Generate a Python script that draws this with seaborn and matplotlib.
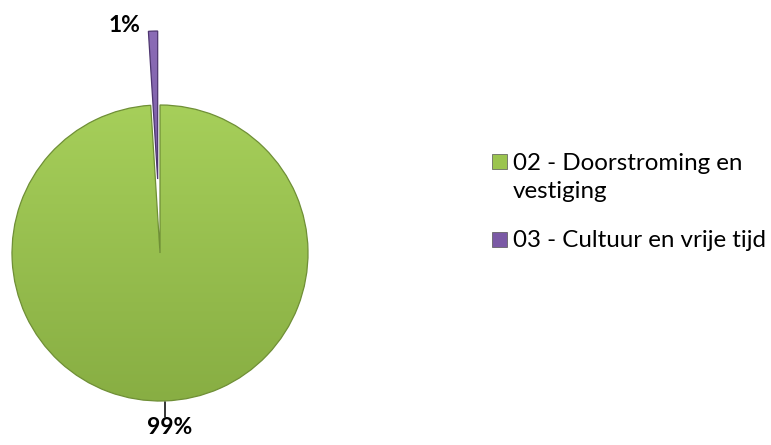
import numpy as np
import matplotlib
matplotlib.use("Agg")
import matplotlib.pyplot as plt
import seaborn as sns
from matplotlib.patches import Rectangle
from matplotlib.colors import LinearSegmentedColormap

# ---- data ----
categories = ["02 - Doorstroming en vestiging", "03 - Cultuur en vrije tijd"]
legend_lines = [["02 - Doorstroming en", "vestiging"], ["03 - Cultuur en vrije tijd"]]
values = [99, 1]
pct_labels = ["99%", "1%"]
explode = [0.0, 0.5]

# ---- style ----
colors = ["#9BC44F", "#7B5AA6"]
grad_top = ["#A6CF5A", "#8B6CB6"]
grad_bot = ["#88AE43", "#6A4D95"]
edge_cols = ["#6F8F36", "#4E3670"]

sns.set_theme(style="white")
plt.rcParams['font.family'] = ['Lato', 'DejaVu Sans']

W, H = 771, 445
fig = plt.figure(figsize=(W / 100, H / 100), dpi=100)
ax = fig.add_axes([0, 0, 1, 1])

R = 148.0          # pie radius in pixels
cx, cy = 160.0, 253.0  # pie centre in pixels (from top-left)

wedges, _ = ax.pie(values, colors=colors, explode=explode, startangle=90,
                   counterclock=False, radius=1.0,
                   wedgeprops=dict(linewidth=0.9))

grad = np.linspace(0, 1, 256).reshape(-1, 1)
for w, top, bot, ec in zip(wedges, grad_top, grad_bot, edge_cols):
    cmap = LinearSegmentedColormap.from_list("g", [bot, top])
    wx, wy = w.center
    r = w.r
    im = ax.imshow(grad, origin="lower", cmap=cmap, aspect="auto",
                   extent=(wx - r, wx + r, wy - r, wy + r), zorder=1)
    im.set_clip_path(w)
    w.set_facecolor("none")
    w.set_edgecolor(ec)
    w.set_zorder(2)

ax.set_xlim(-cx / R, (W - cx) / R)
ax.set_ylim(-(H - cy) / R, cy / R)
ax.set_aspect("auto")
ax.axis("off")

def px(x, y):
    return (x - cx) / R, (cy - y) / R

# data labels
tx, ty = px(169.5, 427)
ax.text(tx, ty, pct_labels[0], ha="center", va="center", fontsize=16.5,
        fontweight="bold", color="black")
l0 = px(165, 402)
l1 = px(165, 417)
ax.plot([l0[0], l1[0]], [l0[1], l1[1]], color="black", lw=1.1)
tx, ty = px(125, 26)
ax.text(tx, ty, pct_labels[1], ha="center", va="center", fontsize=16.5,
        fontweight="bold", color="black")

# legend
sq_tops = [154, 232]
baselines = [[170, 198], [247]]
for col, top, lines, bls in zip(colors, sq_tops, legend_lines, baselines):
    fig.add_artist(Rectangle((492 / W, 1 - (top + 15) / H), 15 / W, 15 / H,
                             transform=fig.transFigure, facecolor=col,
                             edgecolor="#555555", linewidth=0.5))
    for line, bl in zip(lines, bls):
        fig.text(513 / W, 1 - bl / H, line, ha="left", va="baseline",
                 fontsize=17.4, color="black")

fig.savefig("out.png", dpi=100)
